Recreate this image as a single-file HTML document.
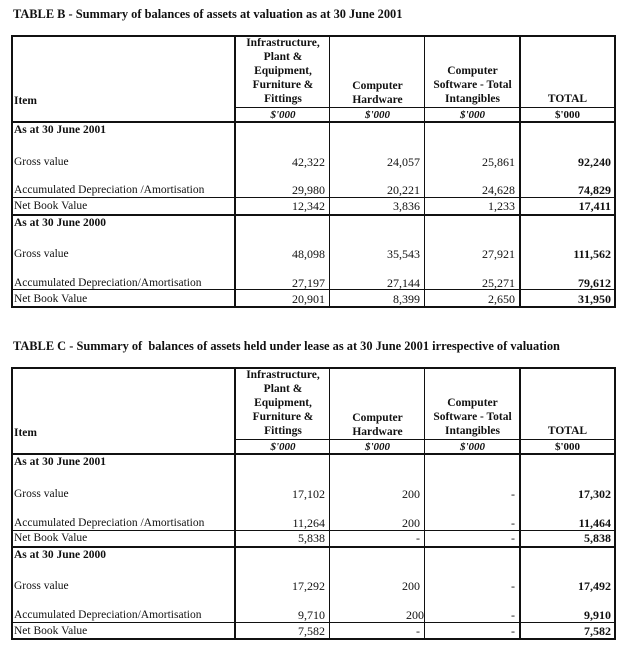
<!DOCTYPE html>
<html><head><meta charset="utf-8"><style>
html,body{margin:0;padding:0;background:#fff;width:628px;height:651px;overflow:hidden}
body{position:relative;font-family:"Liberation Serif",serif;color:#111;font-size:11.5px}
.l{position:absolute;background:#111}
.t{position:absolute;white-space:nowrap;line-height:14px}
.b{font-weight:bold}
.r{text-align:right}
.c{text-align:center}
.i{font-style:italic;font-weight:bold}
.title{font-weight:bold;font-size:12.4px}
.n{font-size:12px}
</style></head><body>

<!-- TABLE B -->
<div class="t title" style="left:13px;top:7px">TABLE B - Summary of balances of assets at valuation as at 30 June 2001</div>
<div>
<div class="l" style="left:11px;top:35px;width:605px;height:2px"></div>
<div class="l" style="left:11px;top:35px;width:2px;height:273px"></div>
<div class="l" style="left:234px;top:35px;width:2px;height:273px"></div>
<div class="l" style="left:329px;top:35px;width:1px;height:273px"></div>
<div class="l" style="left:424px;top:35px;width:1px;height:273px"></div>
<div class="l" style="left:519px;top:35px;width:2px;height:273px"></div>
<div class="l" style="left:614px;top:35px;width:2px;height:273px"></div>
<div class="l" style="left:235px;top:107px;width:380px;height:1px"></div>
<div class="l" style="left:11px;top:121px;width:605px;height:2px"></div>
<div class="l" style="left:11px;top:197px;width:605px;height:1px"></div>
<div class="l" style="left:11px;top:214px;width:605px;height:2px"></div>
<div class="l" style="left:11px;top:289px;width:605px;height:1px"></div>
<div class="l" style="left:11px;top:306px;width:605px;height:2px"></div>

<div class="t b" style="left:236px;width:94px;top:36px;font-size:11.5px;text-align:center;line-height:14px;white-space:normal">Infrastructure,<br>Plant &amp;<br>Equipment,<br>Furniture &amp;<br>Fittings</div>
<div class="t b c" style="left:330px;width:95px;top:79px;font-size:11.5px">Computer<br>Hardware</div>
<div class="t b c" style="left:425px;width:95px;top:64px;font-size:11.5px">Computer<br>Software - Total<br>Intangibles</div>
<div class="t b c" style="left:520px;width:95px;top:92px;font-size:11.5px">TOTAL</div>
<div class="t b" style="left:14px;top:94px;font-size:11.5px">Item</div>
<div class="t i c" style="left:236px;width:94px;top:108px;font-size:11px">$'000</div>
<div class="t i c" style="left:330px;width:95px;top:108px;font-size:11px">$'000</div>
<div class="t i c" style="left:425px;width:95px;top:108px;font-size:11px">$'000</div>
<div class="t b c" style="left:520px;width:95px;top:108px;font-size:11px">$'000</div>

<div class="t b" style="left:14px;top:123px">As at 30 June 2001</div>
<div class="t" style="left:14px;top:155px">Gross value</div>
<div class="t" style="left:14px;top:183px">Accumulated Depreciation /Amortisation</div>
<div class="t" style="left:14px;top:199px">Net Book Value</div>
<div class="t b" style="left:14px;top:216px">As at 30 June 2000</div>
<div class="t" style="left:14px;top:247px">Gross value</div>
<div class="t" style="left:14px;top:276px">Accumulated Depreciation/Amortisation</div>
<div class="t" style="left:14px;top:292px">Net Book Value</div>

<div class="t r n" style="right:303px;top:155px">42,322</div>
<div class="t r n" style="right:303px;top:183px">29,980</div>
<div class="t r n" style="right:303px;top:199px">12,342</div>
<div class="t r n" style="right:303px;top:247px">48,098</div>
<div class="t r n" style="right:303px;top:276px">27,197</div>
<div class="t r n" style="right:303px;top:292px">20,901</div>

<div class="t r n" style="right:208px;top:155px">24,057</div>
<div class="t r n" style="right:208px;top:183px">20,221</div>
<div class="t r n" style="right:208px;top:199px">3,836</div>
<div class="t r n" style="right:208px;top:247px">35,543</div>
<div class="t r n" style="right:208px;top:276px">27,144</div>
<div class="t r n" style="right:208px;top:292px">8,399</div>

<div class="t r n" style="right:113px;top:155px">25,861</div>
<div class="t r n" style="right:113px;top:183px">24,628</div>
<div class="t r n" style="right:113px;top:199px">1,233</div>
<div class="t r n" style="right:113px;top:247px">27,921</div>
<div class="t r n" style="right:113px;top:276px">25,271</div>
<div class="t r n" style="right:113px;top:292px">2,650</div>

<div class="t r b n" style="right:17px;top:155px">92,240</div>
<div class="t r b n" style="right:17px;top:183px">74,829</div>
<div class="t r b n" style="right:17px;top:199px">17,411</div>
<div class="t r b n" style="right:17px;top:247px">111,562</div>
<div class="t r b n" style="right:17px;top:276px">79,612</div>
<div class="t r b n" style="right:17px;top:292px">31,950</div>
</div>

<!-- TABLE C -->
<div class="t title" style="left:13px;top:339px">TABLE C - Summary of&nbsp; balances of assets held under lease as at 30 June 2001 irrespective of valuation</div>
<div style="position:absolute;left:0;top:332px;width:628px;height:320px">
<div class="l" style="left:11px;top:35px;width:605px;height:2px"></div>
<div class="l" style="left:11px;top:35px;width:2px;height:273px"></div>
<div class="l" style="left:234px;top:35px;width:2px;height:273px"></div>
<div class="l" style="left:329px;top:35px;width:1px;height:273px"></div>
<div class="l" style="left:424px;top:35px;width:1px;height:273px"></div>
<div class="l" style="left:519px;top:35px;width:2px;height:273px"></div>
<div class="l" style="left:614px;top:35px;width:2px;height:273px"></div>
<div class="l" style="left:235px;top:107px;width:380px;height:1px"></div>
<div class="l" style="left:11px;top:121px;width:605px;height:2px"></div>
<div class="l" style="left:11px;top:198px;width:605px;height:1px"></div>
<div class="l" style="left:11px;top:214px;width:605px;height:2px"></div>
<div class="l" style="left:11px;top:290px;width:605px;height:1px"></div>
<div class="l" style="left:11px;top:306px;width:605px;height:2px"></div>

<div class="t b" style="left:236px;width:94px;top:36px;font-size:11.5px;text-align:center;line-height:14px;white-space:normal">Infrastructure,<br>Plant &amp;<br>Equipment,<br>Furniture &amp;<br>Fittings</div>
<div class="t b c" style="left:330px;width:95px;top:79px;font-size:11.5px">Computer<br>Hardware</div>
<div class="t b c" style="left:425px;width:95px;top:64px;font-size:11.5px">Computer<br>Software - Total<br>Intangibles</div>
<div class="t b c" style="left:520px;width:95px;top:92px;font-size:11.5px">TOTAL</div>
<div class="t b" style="left:14px;top:94px;font-size:11.5px">Item</div>
<div class="t i c" style="left:236px;width:94px;top:108px;font-size:11px">$'000</div>
<div class="t i c" style="left:330px;width:95px;top:108px;font-size:11px">$'000</div>
<div class="t i c" style="left:425px;width:95px;top:108px;font-size:11px">$'000</div>
<div class="t b c" style="left:520px;width:95px;top:108px;font-size:11px">$'000</div>

<div class="t b" style="left:14px;top:123px">As at 30 June 2001</div>
<div class="t" style="left:14px;top:155px">Gross value</div>
<div class="t" style="left:14px;top:184px">Accumulated Depreciation /Amortisation</div>
<div class="t" style="left:14px;top:199px">Net Book Value</div>
<div class="t b" style="left:14px;top:216px">As at 30 June 2000</div>
<div class="t" style="left:14px;top:247px">Gross value</div>
<div class="t" style="left:14px;top:276px">Accumulated Depreciation/Amortisation</div>
<div class="t" style="left:14px;top:292px">Net Book Value</div>

<div class="t r n" style="right:303px;top:155px">17,102</div>
<div class="t r n" style="right:303px;top:184px">11,264</div>
<div class="t r n" style="right:303px;top:199px">5,838</div>
<div class="t r n" style="right:303px;top:247px">17,292</div>
<div class="t r n" style="right:303px;top:276px">9,710</div>
<div class="t r n" style="right:303px;top:292px">7,582</div>

<div class="t r n" style="right:208px;top:155px">200</div>
<div class="t r n" style="right:208px;top:184px">200</div>
<div class="t r n" style="right:208px;top:199px">-</div>
<div class="t r n" style="right:208px;top:247px">200</div>
<div class="t r n" style="right:204px;top:276px">200</div>
<div class="t r n" style="right:208px;top:292px">-</div>

<div class="t r n" style="right:113px;top:155px">-</div>
<div class="t r n" style="right:113px;top:184px">-</div>
<div class="t r n" style="right:113px;top:199px">-</div>
<div class="t r n" style="right:113px;top:247px">-</div>
<div class="t r n" style="right:113px;top:276px">-</div>
<div class="t r n" style="right:113px;top:292px">-</div>

<div class="t r b n" style="right:17px;top:155px">17,302</div>
<div class="t r b n" style="right:17px;top:184px">11,464</div>
<div class="t r b n" style="right:17px;top:199px">5,838</div>
<div class="t r b n" style="right:17px;top:247px">17,492</div>
<div class="t r b n" style="right:17px;top:276px">9,910</div>
<div class="t r b n" style="right:17px;top:292px">7,582</div>
</div>
</body></html>
